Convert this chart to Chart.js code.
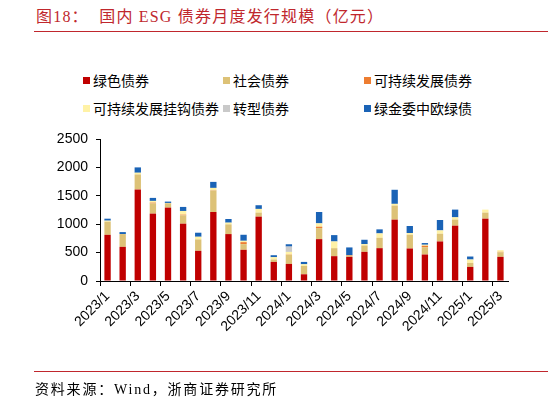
<!DOCTYPE html>
<html>
<head>
<meta charset="utf-8">
<script src="https://cdn.jsdelivr.net/npm/chart.js@4.4.1/dist/chart.umd.min.js"></script>
<style>
  body { margin: 0; background: #fff; }
  #wrap { position: relative; width: 548px; height: 402px; overflow: hidden; }
  #c { position: absolute; left: 0; top: 0; }
  .title { position: absolute; left: 36px; top: 3px; font: 16px "Liberation Serif", "Noto Sans CJK SC", serif; color: #C0272D; letter-spacing: 1.2px; white-space: pre; }
  .rule { position: absolute; left: 34px; right: 0; height: 1px; background: #C0272D; }
  .src { position: absolute; left: 35px; top: 378px; font: 14px "Liberation Serif", "Noto Sans CJK SC", serif; color: #000; letter-spacing: 1.8px; }
  .leg { position: absolute; font: 14px "Noto Sans CJK SC", sans-serif; color: #000; white-space: nowrap; line-height: 16px; }
  .leg i { display: inline-block; width: 7px; height: 7px; margin-right: 3px; vertical-align: 2px; }
</style>
</head>
<body>
<div id="wrap">
  <div class="title">图18：  国内 ESG 债券月度发行规模（亿元）</div>
  <div class="rule" style="top:31px"></div>
  <div id="legend"></div>
  <canvas id="c" width="548" height="402"></canvas>
  <div class="rule" style="top:371px"></div>
  <div class="src">资料来源：Wind，浙商证券研究所</div>
</div>
<script>
// 亿元, 2023/1 - 2025/3
const months = [
    '2023/1', '2023/2', '2023/3', '2023/4', '2023/5', '2023/6', '2023/7', '2023/8', '2023/9',
    '2023/10', '2023/11', '2023/12', '2024/1', '2024/2', '2024/3', '2024/4', '2024/5', '2024/6',
    '2024/7', '2024/8', '2024/9', '2024/10', '2024/11', '2024/12', '2025/1', '2025/2', '2025/3'
];
const green = [813, 601, 1610, 1186, 1292, 1009, 531, 1215, 826, 549, 1133, 336, 301, 118, 737, 437, 425, 513, 578, 1080, 572, 466, 696, 974, 248, 1097, 425];
const social = [231, 225, 266, 179, 77, 147, 201, 378, 171, 100, 71, 42, 159, 147, 195, 141, 20, 112, 183, 248, 242, 130, 136, 106, 71, 107, 80];
const sustainable = [0, 0, 0, 15, 0, 12, 0, 5, 0, 35, 0, 0, 5, 0, 24, 0, 10, 0, 0, 0, 0, 24, 0, 0, 0, 0, 8];
const linked = [18, 0, 30, 30, 5, 65, 47, 41, 30, 24, 65, 41, 47, 30, 59, 118, 0, 24, 77, 30, 30, 18, 59, 41, 59, 53, 30];
const transition = [0, 0, 0, 0, 0, 0, 0, 0, 0, 0, 0, 0, 94, 0, 0, 0, 0, 0, 0, 0, 0, 0, 0, 0, 0, 0, 0];
const euGreen = [35, 35, 94, 53, 24, 71, 71, 106, 65, 106, 65, 35, 41, 41, 200, 112, 136, 77, 71, 248, 124, 30, 183, 136, 53, 0, 0];

const series = [
    { label: '绿色债券', data: green, color: '#C00000' },
    { label: '社会债券', data: social, color: '#DDC277' },
    { label: '可持续发展债券', data: sustainable, color: '#ED7D31' },
    { label: '可持续发展挂钩债券', data: linked, color: '#FFF2A6' },
    { label: '转型债券', data: transition, color: '#C9C9C9' },
    { label: '绿金委中欧绿债', data: euGreen, color: '#1A63B6' }
];

// legend: 3 columns, 2 rows
const legendCols = [83, 223, 364];
const legendRows = [72, 100];
const legendBox = document.getElementById('legend');
series.forEach((s, i) => {
    const d = document.createElement('div');
    d.className = 'leg';
    d.style.left = legendCols[i % 3] + 'px';
    d.style.top = legendRows[Math.floor(i / 3)] + 'px';
    d.innerHTML = `<i style="background:${s.color}"></i>${s.label}`;
    legendBox.appendChild(d);
});

const axisFont = { family: '"Liberation Sans", Arial, sans-serif', size: 14 };

new Chart(document.getElementById('c'), {
    type: 'bar',
    data: {
        labels: months,
        datasets: series.map(s => ({
            label: s.label,
            data: s.data,
            backgroundColor: s.color,
            borderWidth: 0,
            barPercentage: 0.42,
            categoryPercentage: 1
        }))
    },
    options: {
        responsive: false,
        animation: false,
        layout: { padding: { left: 0, right: 40, top: 139, bottom: 0 } },
        plugins: {
            legend: { display: false },
            tooltip: { enabled: false }
        },
        scales: {
            x: {
                stacked: true,
                offset: true,
                border: { color: '#000', width: 1 },
                grid: {
                    offset: true,
                    drawOnChartArea: false,
                    tickLength: 5,
                    tickColor: (c) => c.index % 2 === 0 ? '#000' : 'rgba(0,0,0,0)'
                },
                ticks: {
                    autoSkip: false,
                    maxRotation: 45,
                    minRotation: 45,
                    padding: 2,
                    color: '#000',
                    font: axisFont,
                    callback: (v, i) => i % 2 === 0 ? months[i] : ''
                },
                afterFit: (s) => { s.height = 121; }
            },
            y: {
                stacked: true,
                min: 0,
                max: 2500,
                border: { color: '#000', width: 1 },
                grid: { drawOnChartArea: false, tickLength: 4, tickColor: '#000' },
                ticks: { stepSize: 500, color: '#000', font: axisFont, padding: 8, callback: (v) => String(v) },
                afterFit: (s) => { s.width = 100; }
            }
        }
    }
});
</script>
</body>
</html>
